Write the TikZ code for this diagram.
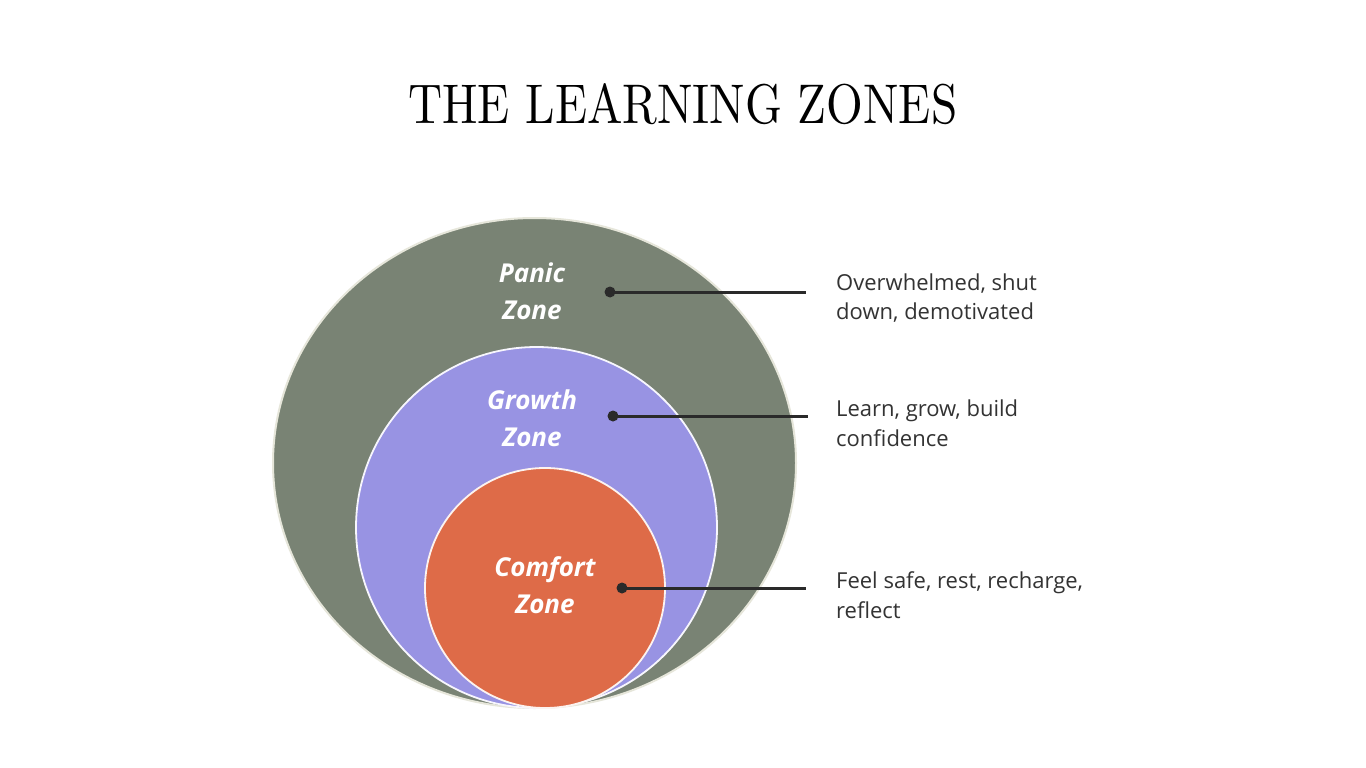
\documentclass[tikz,border=0pt]{standalone}
\usepackage{fontspec}
\newfontfamily\os{Open Sans}
\usepackage{graphicx}
\definecolor{panic}{HTML}{798374}
\definecolor{growth}{HTML}{9893E3}
\definecolor{comfort}{HTML}{DE6B48}
\definecolor{rim}{HTML}{E6E6DA}
\definecolor{ink}{HTML}{2A2A2A}
\definecolor{txt}{HTML}{333333}
\tikzset{
  zonelabel/.style={font=\os\bfseries\itshape\fontsize{26}{37}\selectfont, text=white, align=center, inner sep=0pt},
  desc/.style={font=\os\fontsize{22}{29.5}\selectfont, text=txt, align=left, inner sep=0pt, anchor=west},
  dotnode/.style={circle, fill=ink, minimum size=11pt, inner sep=0pt},
  leader/.style={draw=ink, line width=3pt},
}
\begin{document}
\begin{tikzpicture}[x=1pt,y=-1pt]
\useasboundingbox (0,0) rectangle (1366,768);
\fill[white] (0,0) rectangle (1366,768);
% title
\node[anchor=base west, inner sep=0pt] (title) at (408,123) {\resizebox{549pt}{40pt}{THE LEARNING ZONES}};
% zones
\draw[fill=panic, draw=rim, line width=2pt] (534.5,463) ellipse [x radius=261.5, y radius=245];
\draw[fill=growth, draw=white!92!growth, line width=1.8pt] (536.5,527.5) circle [radius=180.5];
\draw[fill=comfort, draw=white!92!comfort, line width=1.8pt] (545,588) circle [radius=120];
% labels
\node[zonelabel] (pl) at (532,291) {Panic\\Zone};
\node[zonelabel] (gl) at (532,418) {Growth\\Zone};
\node[zonelabel] (cl) at (545,585) {Comfort\\Zone};
% leaders
\node[dotnode] (pd) at (610,292) {};
\coordinate (pe) at (806,292);
\node[dotnode] (gd) at (613,416) {};
\coordinate (ge) at (808,416);
\node[dotnode] (cd) at (622,588) {};
\coordinate (ce) at (806,588);
\draw[leader] (pd.center) -- (pe);
\draw[leader] (gd.center) -- (ge);
\draw[leader] (cd.center) -- (ce);
% descriptions
\node[desc] (pt) at (836,298) {Overwhelmed, shut\\down, demotivated};
\node[desc] (gt) at (836,423) {Learn, grow, build\\confidence};
\node[desc] (ct) at (836,595) {Feel safe, rest, recharge,\\reflect};
\end{tikzpicture}
\end{document}
